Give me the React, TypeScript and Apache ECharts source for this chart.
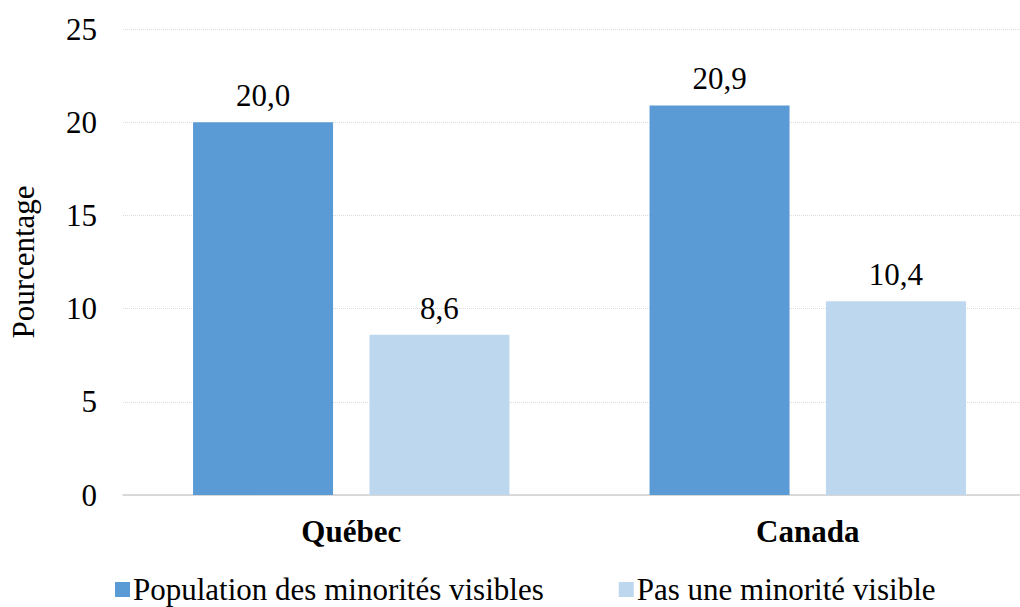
import React, { useEffect, useRef } from "react";
import * as echarts from "echarts";

const categories = ["Québec", "Canada"];
const seriesNames = ["Population des minorités visibles", "Pas une minorité visible"];
const visibleMinority = [20.0, 20.9];
const notVisibleMinority = [8.6, 10.4];
const yTicks = { min: 0, max: 25, interval: 5 };
const colors = ["#5b9bd5", "#bdd7ee"];

const FONT = "Liberation Serif";
const FS = 31;

export default function App() {
  const ref = useRef<HTMLDivElement>(null);
  useEffect(() => {
    if (!ref.current) return;
    const chart = echarts.init(ref.current, null, { renderer: "svg" });
    const label = {
      show: true,
      position: "top" as const,
      distance: 11,
      fontFamily: FONT,
      fontSize: FS,
      color: "#000",
      formatter: (p: any) => Number(p.value).toFixed(1).replace(".", ","),
    };
    chart.setOption({
      animation: false,
      backgroundColor: "#fff",
      textStyle: { fontFamily: FONT },
      grid: { left: 122, top: 29, width: 914, height: 466 },
      legend: {
        top: 569,
        left: 110,
        itemWidth: 15,
        itemHeight: 15,
        itemGap: 75,
        icon: "rect",
        textStyle: { fontFamily: FONT, fontSize: FS, color: "#000", padding: [0, 0, 0, -2] },
        data: seriesNames,
      },
      xAxis: {
        type: "category",
        data: categories,
        axisLine: { show: true, lineStyle: { color: "#d0d0d0", width: 1.5 } },
        axisTick: { show: false },
        axisLabel: { fontFamily: FONT, fontSize: FS, fontWeight: "bold", color: "#000", margin: 21 },
      },
      yAxis: {
        type: "value",
        min: yTicks.min,
        max: yTicks.max,
        interval: yTicks.interval,
        name: "Pourcentage",
        nameLocation: "middle",
        nameGap: 84,
        nameTextStyle: { fontFamily: FONT, fontSize: FS, color: "#000" },
        axisLine: { show: false },
        axisTick: { show: false },
        axisLabel: { fontFamily: FONT, fontSize: FS, color: "#000", margin: 26 },
        splitLine: { lineStyle: { color: "#dcdcdc", width: 1, type: "dotted" } },
      },
      series: [
        {
          name: seriesNames[0],
          type: "bar",
          data: visibleMinority,
          barWidth: 140,
          barGap: "26%",
          itemStyle: { color: colors[0] },
          label,
        },
        {
          name: seriesNames[1],
          type: "bar",
          data: notVisibleMinority,
          barWidth: 140,
          barGap: "26%",
          itemStyle: { color: colors[1] },
          label,
        },
      ],
    });
    return () => chart.dispose();
  }, []);
  return (
    <div style={{ position: "fixed", left: 0, top: 0, width: 1020, height: 607, overflow: "hidden", background: "#fff" }}>
      <div ref={ref} style={{ width: 1040, height: 607 }} />
    </div>
  );
}
